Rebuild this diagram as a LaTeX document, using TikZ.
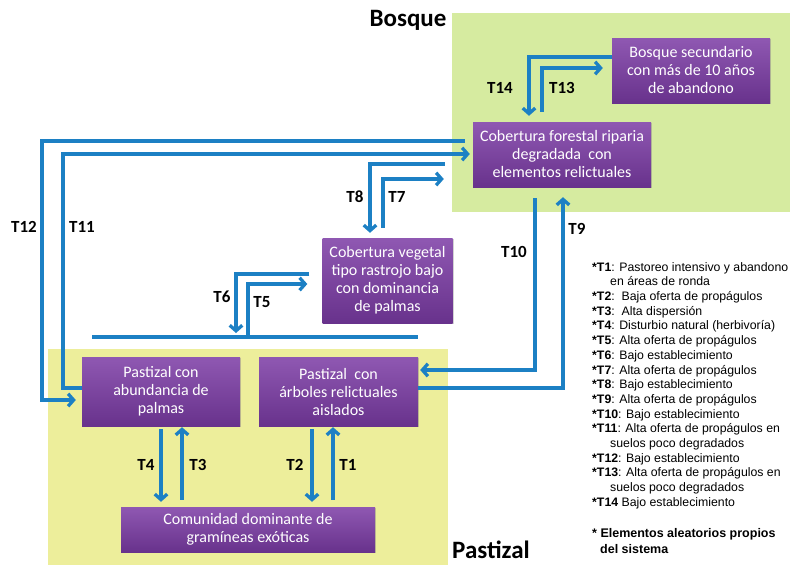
\documentclass[tikz,border=0pt]{standalone}
\usepackage{fontspec}
\setmainfont{Carlito}
\newfontfamily\legfont{Liberation Sans}
\usetikzlibrary{arrows.meta,shadows}
\definecolor{arrowblue}{RGB}{28,128,196}
\definecolor{boxtop}{RGB}{143,88,178}
\definecolor{boxbot}{RGB}{104,50,140}
\definecolor{forestgreen}{RGB}{214,235,160}
\definecolor{pastyellow}{RGB}{237,238,155}
\tikzset{
  box/.style={rectangle, top color=boxtop, bottom color=boxbot, draw=none,
    text=white, align=center, inner sep=2pt,
    font=\fontsize{16}{18}\selectfont,
    drop shadow={opacity=0.35, shadow xshift=1.2pt, shadow yshift=-1.2pt}},
  arr/.style={draw=arrowblue, line width=3.3pt,
    -{Straight Barb[length=5.5pt,width=12.5pt]}},
  barline/.style={draw=arrowblue, line width=3.3pt},
  tlab/.style={font=\bfseries\fontsize{17}{18}\selectfont, inner sep=0pt},
  region/.style={font=\bfseries\fontsize{25}{28}\selectfont, inner sep=0pt},
  legend/.style={align=left, inner sep=0pt,
    font=\legfont\fontsize{12.3}{14.7}\selectfont},
}
\begin{document}
\begin{tikzpicture}[x=1pt,y=-1pt]
\useasboundingbox (0,0) rectangle (793,565);
% regions
\fill[forestgreen] (452,13) rectangle (790,212);
\fill[pastyellow] (48,349) rectangle (448,565);
\node[region] (bosque) at (408,20) {Bosque};
\node[region] (pastizal) at (491,550) {Pastizal};
% boxes
\node[box, minimum width=158pt, minimum height=65pt] (sec) at (691,70.5)
  {Bosque secundario\\con más de 10 años\\de abandono};
\node[box, minimum width=178pt, minimum height=65pt] (forest) at (562,154.5)
  {Cobertura forestal riparia\\degradada\ \ con\\elementos relictuales};
\node[box, minimum width=130pt, minimum height=85pt] (veg) at (387.5,280.5)
  {Cobertura vegetal\\tipo rastrojo bajo\\con dominancia\\de palmas};
\node[box, minimum width=158pt, minimum height=69pt] (palm) at (161,391.5)
  {Pastizal con\\abundancia de\\palmas};
\node[box, minimum width=159pt, minimum height=69pt] (trees) at (338.5,391.5)
  {Pastizal\ \ con\\árboles relictuales\\aislados};
\node[box, minimum width=254pt, minimum height=45pt] (com) at (248,529.5)
  {Comunidad dominante de\\gramíneas exóticas};
% bar
\coordinate (barL) at (92,337);
\coordinate (barR) at (418,337);
\draw[barline] (barL) -- (barR);
% connectors
\draw[arr, shorten <=8pt, shorten >=6pt] (forest.west |- 0,141) -- (42,141) -- (42,400) -- (palm.west |- 0,400); % T12
\draw[arr, shorten >=3pt] (palm.west |- 0,388) -- (63,388) -- (63,154) -- (forest.west |- 0,154); % T11
\draw[arr, shorten <=28pt, shorten >=5pt] (forest.west |- 0,164) -- (370,164) -- (veg.north -| 370,0); % T8
\draw[arr, shorten <=10pt, shorten >=29pt] (veg.north -| 383,0) -- (383,179) -- (forest.west |- 0,179); % T7
\draw[arr, shorten <=13pt, shorten >=4pt] (veg.west |- 0,274) -- (236,274) -- (barL -| 236,0); % T6
\draw[arr, shorten >=15pt] (barL -| 248,0) -- (248,284) -- (veg.west |- 0,284); % T5
\draw[arr, shorten <=10pt, shorten >=9pt] (forest.north -| 542,0) -- (542,68) -- (sec.west |- 0,68); % T13
\draw[arr, shorten >=6pt] (sec.west |- 0,57) -- (529,57) -- (forest.north -| 529,0); % T14
\draw[arr, shorten <=11pt, shorten >=2pt] (forest.south -| 535,0) -- (535,370) -- (trees.east |- 0,370); % T10
\draw[arr, shorten >=10pt] (trees.east |- 0,388) -- (563,388) -- (forest.south -| 563,0); % T9
\draw[arr, shorten <=3pt, shorten >=5pt] (palm.south -| 161,0) -- (com.north -| 161,0); % T4
\draw[arr, shorten <=7pt, shorten >=1pt] (com.north -| 182,0) -- (palm.south -| 182,0); % T3
\draw[arr, shorten <=3pt, shorten >=5pt] (trees.south -| 312,0) -- (com.north -| 312,0); % T2
\draw[arr, shorten <=7pt, shorten >=1pt] (com.north -| 333,0) -- (trees.south -| 333,0); % T1
% transition labels
\node[tlab] (l14) at (500,88) {T14};
\node[tlab] (l13) at (562,88) {T13};
\node[tlab] (l12) at (24,227) {T12};
\node[tlab] (l11) at (82,227) {T11};
\node[tlab] (l8) at (355,197) {T8};
\node[tlab] (l7) at (397,197) {T7};
\node[tlab] (l10) at (514,252) {T10};
\node[tlab] (l9) at (577,229) {T9};
\node[tlab] (l6) at (222,297) {T6};
\node[tlab] (l5) at (262,302) {T5};
\node[tlab] (l4) at (146,465) {T4};
\node[tlab] (l3) at (198,465) {T3};
\node[tlab] (l2) at (295,465) {T2};
\node[tlab] (l1) at (348,465) {T1};
% legend
\node[legend, anchor=north west] (leg) at (592,262) {%
\textbf{*T1}: Pastoreo intensivo y abandono\\
\hspace*{18pt}en áreas de ronda\\
\textbf{*T2}:\ \ Baja oferta de propágulos\\
\textbf{*T3}:\ \ Alta dispersión\\
\textbf{*T4}: Disturbio natural (herbivoría)\\
\textbf{*T5}: Alta oferta de propágulos\\
\textbf{*T6}: Bajo establecimiento\\
\textbf{*T7}: Alta oferta de propágulos\\
\textbf{*T8}: Bajo establecimiento\\
\textbf{*T9}: Alta oferta de propágulos\\
\textbf{*T10}: Bajo establecimiento\\
\textbf{*T11}: Alta oferta de propágulos en\\
\hspace*{18pt}suelos poco degradados\\
\textbf{*T12}: Bajo establecimiento\\
\textbf{*T13}: Alta oferta de propágulos en\\
\hspace*{18pt}suelos poco degradados\\
\textbf{*T14} Bajo establecimiento};
\node[legend, anchor=north west, font=\legfont\bfseries\fontsize{12.5}{16}\selectfont] (note) at (592,528)
  {* Elementos aleatorios propios\\\hspace*{8pt}del sistema};
\end{tikzpicture}
\end{document}
